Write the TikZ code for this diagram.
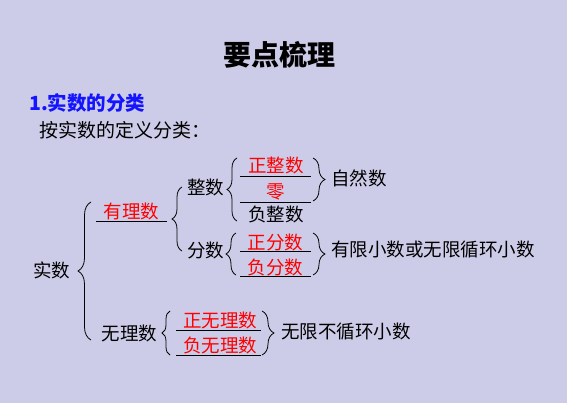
\documentclass[tikz,border=0pt]{standalone}
\usepackage{fontspec}
\setmainfont{Noto Sans CJK SC}
\usetikzlibrary{decorations.pathreplacing}
\definecolor{bg}{RGB}{204,204,232}
\definecolor{hblue}{RGB}{20,20,255}
\definecolor{tred}{RGB}{255,0,0}
\begin{document}
\begin{tikzpicture}[x=1pt,y=1pt,
  txt/.style={inner sep=0pt, font=\fontsize{18.5}{20}\selectfont, text=black},
  redtxt/.style={text=tred},
  ul/.style={line width=0.8pt, black},
  brc/.style={decorate, decoration={brace, amplitude=#1}, line width=0.8pt, black},
]
\fill[bg] (0,0) rectangle (567,-403);
\useasboundingbox (0,0) rectangle (567,-403);

% headings
\node[inner sep=0pt, font=\bfseries\fontsize{28}{30}\selectfont] (title) at (279,-55) {要点梳理};
\node[inner sep=0pt, anchor=west, font=\bfseries\fontsize{19.5}{21}\selectfont, text=hblue] (h1) at (29,-103) {1.实数的分类};
\node[inner sep=0pt, anchor=west, font=\fontsize{19}{21}\selectfont] (h2) at (39,-130) {按实数的定义分类：};

% tree texts
\node[txt] (real) at (51.5,-270) {实数};
\node[txt, redtxt] (rat) at (131.5,-211) {有理数};
\node[txt] (irr) at (129.5,-333) {无理数};
\node[txt] (int) at (205.5,-187) {整数};
\node[txt] (frac) at (205.5,-250) {分数};
\node[txt, redtxt] (posint) at (276,-165) {正整数};
\node[txt, redtxt] (zero) at (276,-192) {零};
\node[txt] (negint) at (276,-214) {负整数};
\node[txt, redtxt] (posfr) at (275.5,-242) {正分数};
\node[txt, redtxt] (negfr) at (275.5,-267) {负分数};
\node[txt, redtxt] (posirr) at (220,-320) {正无理数};
\node[txt, redtxt] (negirr) at (220,-345) {负无理数};
\node[txt, anchor=west] (nat) at (331,-178) {自然数};
\node[txt, anchor=west] (fin) at (331,-250) {有限小数或无限循环小数};
\node[txt, anchor=west] (nonrep) at (281,-332) {无限不循环小数};

% underlines
\draw[ul] (96,-221) -- (167,-221);
\draw[ul] (240,-176) -- (311,-176);
\draw[ul] (240,-202) -- (311,-202);
\draw[ul] (240,-251) -- (311,-251);
\draw[ul] (240,-276) -- (311,-276);
\draw[ul] (176,-330) -- (261,-330);
\draw[ul] (176,-355) -- (261,-355);

% braces
\draw[brc=13pt] (91,-340) -- (91,-202);
\draw[brc=10pt] (182,-251) -- (182,-187);
\draw[brc=10pt] (237,-221) -- (237,-158);
\draw[brc=10pt] (236,-275) -- (236,-233);
\draw[brc=8pt] (170,-355) -- (170,-311);
\draw[brc=12pt] (313,-158) -- (313,-201);
\draw[brc=12pt] (313,-233) -- (313,-275);
\draw[brc=12pt] (262,-311) -- (262,-355);
\end{tikzpicture}
\end{document}
